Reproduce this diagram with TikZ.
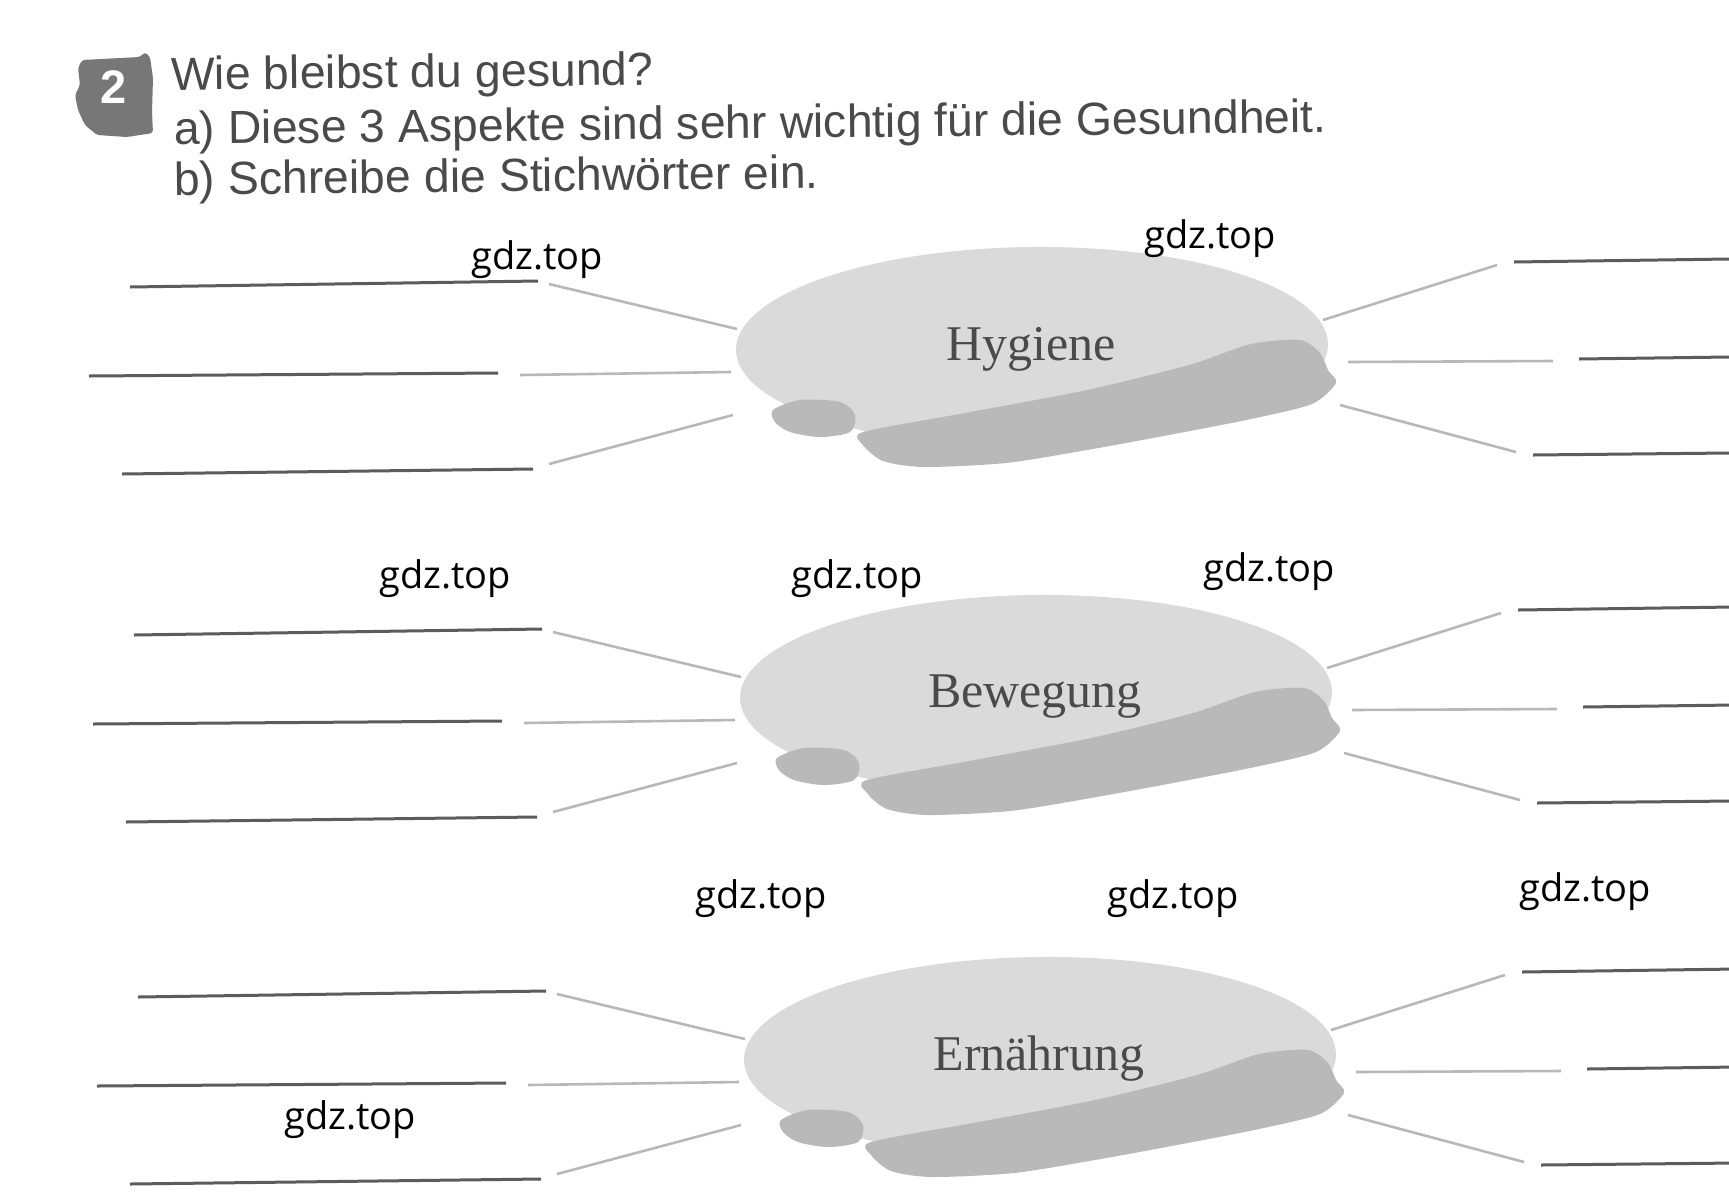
\documentclass[tikz,border=0pt]{standalone}
\usepackage{fontspec}
\setmainfont{Liberation Sans}
\newfontfamily\serifLab{Liberation Serif}
\newfontfamily\wmfont{Open Sans}
\usetikzlibrary{shapes.geometric}
\definecolor{hdrc}{HTML}{4A4A4A}
\definecolor{labc}{HTML}{4A4A4A}
\definecolor{ellc}{HTML}{DADADA}
\definecolor{shadec}{HTML}{B9B9B9}
\definecolor{blankc}{HTML}{5C5C5C}
\definecolor{connc}{HTML}{B8B8B8}
\definecolor{badgec}{HTML}{777777}
\newcommand\mkSection[3]{%
\begin{scope}[shift={#1}]
\node[ell] (#2) at (1032,347) {};
\fill[shadec, shift={(1032,347)}] plot[smooth cycle, tension=0.5] coordinates {(-259,63) (-232,53) (-192,55) (-177,68) (-182,85) (-212,90) (-242,85) (-257,75)};
\fill[shadec, shift={(1032,347)}] plot[smooth cycle, tension=0.45] coordinates {(-169,85) (-67,66) (55,43) (157,18) (219,-3) (268,-7) (288,6) (296,23) (304,36) (280,57) (219,72) (137,88) (55,103) (-26,116) (-108,120) (-149,114) (-169,98)};
\node[lab] (#2t) at (1031,349) {#3};
\coordinate (#2lb1a) at (130,287); \coordinate (#2lb1b) at (538,281);
\coordinate (#2lb2a) at (89,376);  \coordinate (#2lb2b) at (498,373);
\coordinate (#2lb3a) at (122,474); \coordinate (#2lb3b) at (533,469);
\coordinate (#2lc1a) at (549,284); \coordinate (#2lc1b) at (737,329);
\coordinate (#2lc2a) at (520,375); \coordinate (#2lc2b) at (731,372);
\coordinate (#2lc3a) at (549,464); \coordinate (#2lc3b) at (733,415);
\coordinate (#2rc1a) at (1323,320); \coordinate (#2rc1b) at (1497,265);
\coordinate (#2rc2a) at (1348,362); \coordinate (#2rc2b) at (1553,361);
\coordinate (#2rc3a) at (1340,405); \coordinate (#2rc3b) at (1516,452);
\coordinate (#2rb1a) at (1514,262); \coordinate (#2rb1b) at (1729,259);
\coordinate (#2rb2a) at (1579,359); \coordinate (#2rb2b) at (1729,357);
\coordinate (#2rb3a) at (1533,455); \coordinate (#2rb3b) at (1729,453);
\draw[blank] (#2lb1a) -- (#2lb1b);
\draw[blank] (#2lb2a) -- (#2lb2b);
\draw[blank] (#2lb3a) -- (#2lb3b);
\draw[conn] (#2lc1a) -- (#2lc1b);
\draw[conn] (#2lc2a) -- (#2lc2b);
\draw[conn] (#2lc3a) -- (#2lc3b);
\draw[conn] (#2rc1a) -- (#2rc1b);
\draw[conn] (#2rc2a) -- (#2rc2b);
\draw[conn] (#2rc3a) -- (#2rc3b);
\draw[blank] (#2rb1a) -- (#2rb1b);
\draw[blank] (#2rb2a) -- (#2rb2b);
\draw[blank] (#2rb3a) -- (#2rb3b);
\end{scope}}
\begin{document}
\begin{tikzpicture}[x=1pt,y=-1pt,
  hdr/.style={anchor=base west, inner sep=0, text=hdrc, font=\fontsize{46.4}{50}\selectfont, rotate=0.6, text depth=0pt, text height=32pt},
  blank/.style={draw=blankc, line width=3pt},
  conn/.style={draw=connc, line width=2.6pt},
  lab/.style={text=labc, font=\serifLab\fontsize{50}{52}\selectfont, inner sep=0},
  wm/.style={text=black, font=\wmfont\fontsize{38}{40}\selectfont, inner sep=0},
  ell/.style={ellipse, fill=ellc, minimum width=592pt, minimum height=200pt, inner sep=0, rotate=0.6}]
\useasboundingbox[fill=white] (0,0) rectangle (1729,1203);
% badge
\fill[badgec, rounded corners=3pt] (82,60) -- (140,57) -- (145,52) -- (150,57) -- (153,78) -- (152,112) -- (153,133) -- (127,137) -- (97,135) -- (85,125) -- (78,110) -- (75,95) -- (80,85) -- (78,68) -- cycle;
\node[text=white, inner sep=0, font=\bfseries\fontsize{47}{47}\selectfont] (num) at (113.5,87) {2};
% header
\node[hdr] (h1) at (171,90.2) {Wie bleibst du gesund?};
\node[hdr] (h2) at (174,144.5) {a) Diese 3 Aspekte sind sehr wichtig für die Gesundheit.};
\node[hdr] (h3) at (174,195) {b) Schreibe die Stichwörter ein.};
% sections
\mkSection{(0,0)}{hy}{Hygiene}
\mkSection{(4,348)}{bw}{Bewegung}
\mkSection{(8,710)}{er}{Ernährung}
% watermarks
\node[wm] (w1) at (537,260) {gdz.top};
\node[wm] (w2) at (1210,239) {gdz.top};
\node[wm] (w3) at (445,579) {gdz.top};
\node[wm] (w4) at (857,579) {gdz.top};
\node[wm] (w5) at (1269,572) {gdz.top};
\node[wm] (w6) at (761,899) {gdz.top};
\node[wm] (w7) at (1173,899) {gdz.top};
\node[wm] (w8) at (1585,892) {gdz.top};
\node[wm] (w9) at (350,1120) {gdz.top};
\end{tikzpicture}
\end{document}
